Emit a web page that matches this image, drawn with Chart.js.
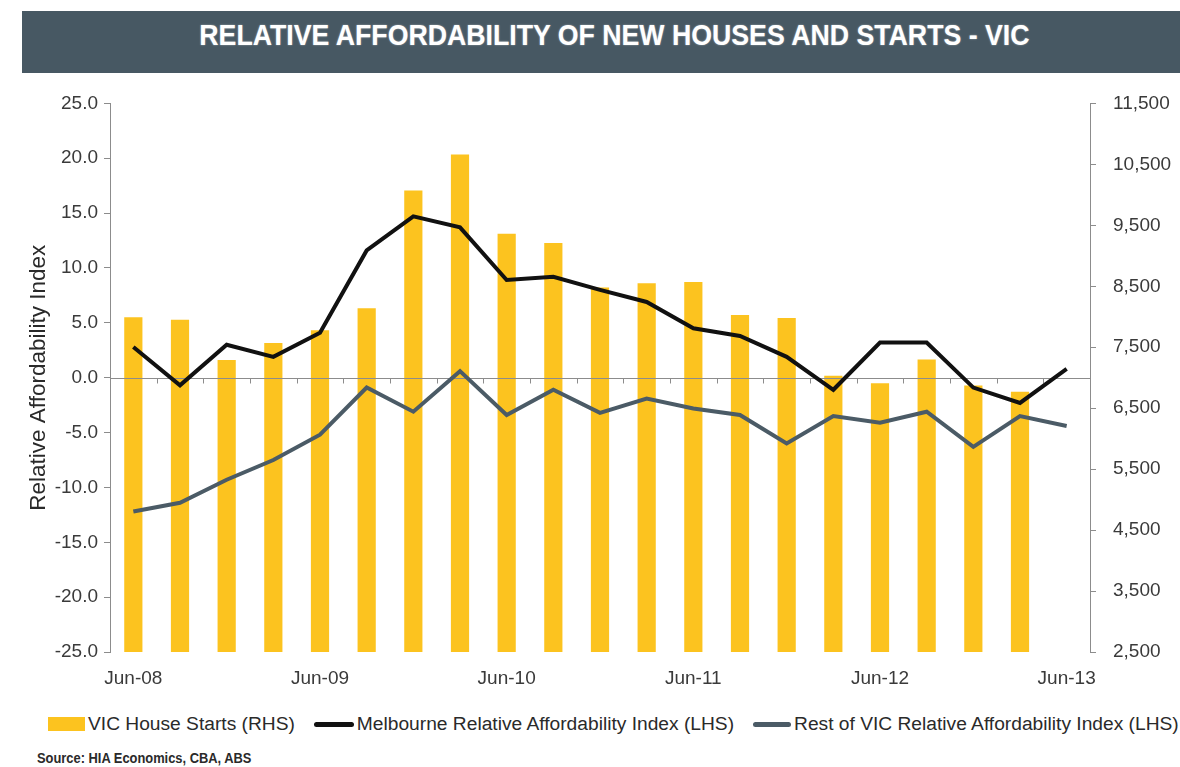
<!DOCTYPE html>
<html lang="en">
<head>
    <meta charset="UTF-8">
    <title>Relative Affordability - VIC</title>
    <script src="https://cdn.jsdelivr.net/npm/chart.js"></script>
    <style>
        body { margin: 0; background: #fff; width: 1180px; height: 767px; position: relative; overflow: hidden;
               font-family: "Liberation Sans", Arial, sans-serif; }
        .banner {
            position: absolute; left: 22px; top: 11px; width: 1158px; height: 62px;
            background: #475863; text-align: center; padding-left: 26px; box-sizing: border-box;
        }
        .banner span {
            display: inline-block; color: #fff; font-weight: bold; font-size: 30px; line-height: 48px;
            transform: scaleX(0.89); transform-origin: center;
            text-shadow: 0 0 2px rgba(255,255,255,0.5);
        }
        .chart-wrapper { position: absolute; left: 0; top: 75px; width: 1180px; height: 622px; }
        #legend {
            position: absolute; left: 48px; top: 713px; display: flex; align-items: center;
            font-size: 19.2px; color: #2a2a2a; white-space: nowrap;
        }
        #legend .item { display: flex; align-items: center; margin-right: 19px; }
        #legend .swatch { margin-right: 3px; }
        .source {
            position: absolute; left: 37px; top: 750px; font-size: 14px; font-weight: bold; color: #2a2a2a;
            transform: scaleX(0.92); transform-origin: left center;
        }
    </style>
</head>
<body>
<div class="banner"><span>RELATIVE AFFORDABILITY OF NEW HOUSES AND STARTS - VIC</span></div>
<div class="chart-wrapper"><canvas id="chart"></canvas></div>
<div id="legend"></div>
<div class="source">Source: HIA Economics, CBA, ABS</div>

<script>
    // quarterly series, Jun-08 .. Jun-13
    const quarters = ['Jun-08','Sep-08','Dec-08','Mar-09','Jun-09','Sep-09','Dec-09','Mar-10','Jun-10','Sep-10',
        'Dec-10','Mar-11','Jun-11','Sep-11','Dec-11','Mar-12','Jun-12','Sep-12','Dec-12','Mar-13','Jun-13'];
    const houseStarts = [7990, 7950, 7290, 7570, 7780, 8140, 10070, 10660, 9360, 9210,
        8480, 8550, 8570, 8030, 7980, 7030, 6910, 7300, 6870, 6770, null];
    const melbourneIndex = [2.8, -0.7, 3.0, 1.9, 4.1, 11.6, 14.7, 13.7, 8.9, 9.2,
        8.0, 6.9, 4.5, 3.8, 1.9, -1.1, 3.2, 3.2, -0.9, -2.3, 0.8];
    const restOfVicIndex = [-12.2, -11.4, -9.3, -7.5, -5.2, -0.9, -3.1, 0.6, -3.4, -1.1,
        -3.2, -1.9, -2.8, -3.4, -6.0, -3.5, -4.1, -3.1, -6.3, -3.5, -4.4];
    const lhsTicks = [-25, -20, -15, -10, -5, 0, 5, 10, 15, 20, 25];
    const rhsTicks = [2500, 3500, 4500, 5500, 6500, 7500, 8500, 9500, 10500, 11500];

    const YELLOW = '#FCC31F';
    const BLACK = '#111111';
    const SLATE = '#4B5B66';
    const AXIS = '#8c8c8c';
    const TEXT = '#3a3a3a';
    const tickFont = { family: '"Liberation Sans", Arial, sans-serif', size: 19 };

    // zero line across the plot, with small marks between quarters; drawn over the bars
    const zeroLine = {
        id: 'zeroLine',
        afterDatasetDraw(chart, args) {
            if (args.meta.type !== 'bar') return;
            const { ctx, chartArea, scales: { x, y } } = chart;
            const y0 = Math.round(y.getPixelForValue(0)) + 0.5;
            const step = x.getPixelForValue(1) - x.getPixelForValue(0);
            ctx.save();
            ctx.strokeStyle = AXIS;
            ctx.lineWidth = 1;
            ctx.beginPath();
            ctx.moveTo(chartArea.left, y0);
            ctx.lineTo(chartArea.right, y0);
            for (let i = 1; i < quarters.length; i++) {
                const bx = Math.round(x.getPixelForValue(i) - step / 2) + 0.5;
                ctx.moveTo(bx, y0);
                ctx.lineTo(bx, y0 + 5);
            }
            ctx.stroke();
            ctx.restore();
        }
    };

    const chart = new Chart(document.getElementById('chart'), {
        data: {
            labels: quarters,
            datasets: [
                { type: 'line', label: 'Melbourne Relative Affordability Index (LHS)', data: melbourneIndex,
                  yAxisID: 'y', borderColor: BLACK, borderWidth: 4, pointRadius: 0, tension: 0, order: 1 },
                { type: 'line', label: 'Rest of VIC Relative Affordability Index (LHS)', data: restOfVicIndex,
                  yAxisID: 'y', borderColor: SLATE, borderWidth: 4, pointRadius: 0, tension: 0, order: 2 },
                { type: 'bar', label: 'VIC House Starts (RHS)', data: houseStarts, yAxisID: 'y2',
                  backgroundColor: YELLOW, categoryPercentage: 1, barPercentage: 0.39, order: 3 }
            ]
        },
        options: {
            responsive: true,
            maintainAspectRatio: false,
            animation: false,
            layout: { padding: { top: 20, left: 0, right: 0, bottom: 0 } },
            plugins: { legend: { display: false }, tooltip: { enabled: false } },
            scales: {
                x: {
                    type: 'category',
                    grid: { display: false, drawTicks: false },
                    border: { display: false },
                    ticks: {
                        autoSkip: false, maxRotation: 0, padding: 15, color: TEXT, font: tickFont,
                        callback: (v, i) => (i % 4 === 0 ? quarters[i] : '')
                    },
                    afterFit: s => { s.height = 45; }
                },
                y: {
                    position: 'left',
                    min: -25, max: 25,
                    afterBuildTicks: s => { s.ticks = lhsTicks.map(v => ({ value: v })); },
                    grid: { drawOnChartArea: false, drawTicks: true, tickLength: 6, tickColor: AXIS },
                    border: { display: true, color: AXIS },
                    ticks: { padding: 6, color: TEXT, font: tickFont, callback: v => Number(v).toFixed(1) },
                    title: {
                        display: true, text: 'Relative Affordability Index', color: '#2a2a2a',
                        font: { family: '"Liberation Sans", Arial, sans-serif', size: 22.5 },
                        padding: { top: 25, bottom: 0 }
                    },
                    afterFit: s => { s.width = 110; }
                },
                y2: {
                    position: 'right',
                    min: 2500, max: 11500,
                    afterBuildTicks: s => { s.ticks = rhsTicks.map(v => ({ value: v })); },
                    grid: { drawOnChartArea: false, drawTicks: true, tickLength: 6, tickColor: AXIS },
                    border: { display: true, color: AXIS },
                    ticks: { padding: 17, color: TEXT, font: tickFont, callback: v => Number(v).toLocaleString('en-US') },
                    afterFit: s => { s.width = 90; }
                }
            }
        },
        plugins: [zeroLine]
    });

    // legend in the order the series are listed below the chart
    const legend = document.getElementById('legend');
    [
        { text: 'VIC House Starts (RHS)', color: YELLOW, w: 37, h: 14, r: 0 },
        { text: 'Melbourne Relative Affordability Index (LHS)', color: BLACK, w: 40, h: 5, r: 3 },
        { text: 'Rest of VIC Relative Affordability Index (LHS)', color: SLATE, w: 38, h: 5, r: 3 }
    ].forEach(item => {
        const el = document.createElement('div');
        el.className = 'item';
        el.innerHTML = `<span class="swatch" style="display:inline-block;width:${item.w}px;height:${item.h}px;` +
            `background:${item.color};border-radius:${item.r}px"></span><span>${item.text}</span>`;
        legend.appendChild(el);
    });
</script>
</body>
</html>
